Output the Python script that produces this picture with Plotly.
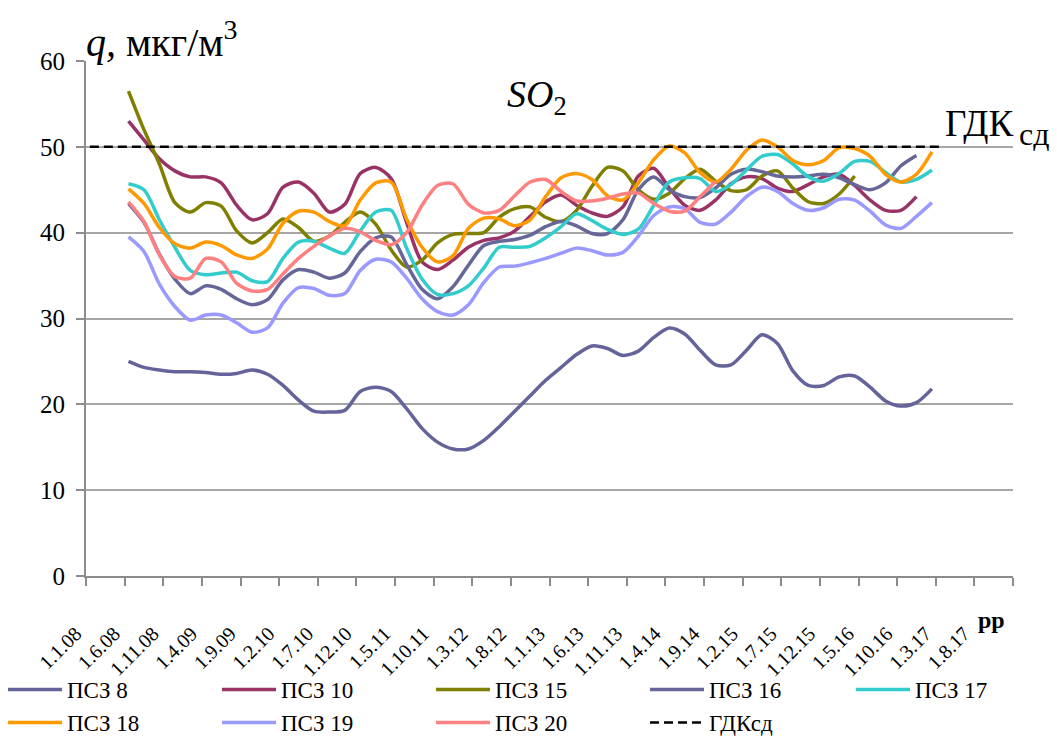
import plotly.graph_objects as go

# month index: 0 = January 2008
months = list(range(5, 110, 2))

tick_months = list(range(0, 120, 5))
tick_labels = ['1.1.08', '1.6.08', '1.11.08', '1.4.09', '1.9.09', '1.2.10', '1.7.10',
               '1.12.10', '1.5.11', '1.10.11', '1.3.12', '1.8.12', '1.1.13', '1.6.13',
               '1.11.13', '1.4.14', '1.9.14', '1.2.15', '1.7.15', '1.12.15', '1.5.16',
               '1.10.16', '1.3.17', '1.8.17']

psz8 = [25.0, 24.3, 24.0, 23.8, 23.8, 23.7, 23.5, 23.6, 24.0, 23.5,
        22.2, 20.5, 19.2, 19.1, 19.3, 21.5, 22.0, 21.5, 19.5, 17.2,
        15.6, 14.8, 14.8, 15.8, 17.4, 19.2, 21.0, 22.8, 24.3, 25.8,
        26.8, 26.5, 25.7, 26.2, 27.8, 28.9, 28.2, 26.3, 24.6, 24.6,
        26.3, 28.1, 27.1, 23.9, 22.2, 22.2, 23.2, 23.3, 22.0, 20.4,
        19.8, 20.2, 21.8]
psz10 = [53.0, 50.8, 48.6, 47.2, 46.5, 46.5, 45.8, 43.2, 41.5, 42.2,
         45.3, 45.9, 44.6, 42.4, 43.3, 46.9, 47.6, 46.3, 41.2, 36.6,
         35.7, 36.8, 38.3, 39.1, 39.4, 40.2, 41.9, 43.6, 44.4, 43.2,
         42.3, 41.9, 43.0, 46.6, 47.5, 45.2, 43.2, 42.6, 43.8, 45.7,
         46.5, 46.3, 45.2, 44.8, 45.6, 46.5, 46.8, 45.5, 43.8, 42.6,
         42.6, 44.2, None]
psz15 = [56.5, 52.0, 48.0, 43.5, 42.4, 43.5, 43.1, 40.2, 38.8, 40.0,
         41.6, 40.6, 39.0, 39.6, 41.2, 42.4, 41.0, 38.0, 36.0, 36.8,
         38.8, 39.8, 39.9, 40.0, 41.8, 42.8, 43.0, 41.8, 41.3, 42.6,
         45.4, 47.6, 47.2, 45.0, 43.9, 44.6, 46.3, 47.4, 46.0, 44.9,
         45.0, 46.6, 47.2, 45.2, 43.6, 43.4, 44.5, 46.6, None, None,
         None, None, None]
psz16 = [43.4, 41.2, 37.5, 34.6, 32.9, 33.8, 33.4, 32.3, 31.6, 32.2,
         34.5, 35.7, 35.4, 34.7, 35.3, 37.8, 39.4, 39.5, 36.3, 33.4,
         32.3, 33.7, 36.2, 38.5, 39.0, 39.2, 39.7, 40.7, 41.3, 40.8,
         39.9, 39.9, 41.5, 45.0, 46.5, 45.0, 44.2, 44.1, 45.2, 46.8,
         47.4, 47.1, 46.6, 46.5, 46.6, 46.8, 46.4, 45.6, 45.0, 45.8,
         47.8, 49.0, None]
psz17 = [45.7, 45.0, 41.5, 38.3, 35.6, 35.1, 35.3, 35.4, 34.4, 34.3,
         37.0, 38.9, 39.0, 38.2, 37.6, 40.2, 42.4, 42.6, 38.2, 34.6,
         32.8, 32.9, 33.8, 35.9, 38.3, 38.3, 38.4, 39.4, 40.7, 42.2,
         41.4, 40.4, 39.8, 40.4, 43.2, 45.9, 46.4, 46.3, 44.8, 45.6,
         47.3, 48.9, 49.1, 48.0, 46.5, 46.0, 46.9, 48.3, 48.3, 47.0,
         45.9, 46.2, 47.3]
psz18 = [45.1, 43.4, 40.6, 38.7, 38.2, 38.9, 38.5, 37.4, 37.0, 38.1,
         41.1, 42.5, 42.4, 41.3, 40.8, 43.8, 45.8, 45.9, 41.6, 38.3,
         36.6, 37.3, 40.5, 41.7, 41.6, 40.8, 41.5, 44.2, 46.4, 46.9,
         46.2, 44.3, 43.8, 45.8, 48.5, 50.1, 49.3, 47.0, 45.9, 47.4,
         49.6, 50.8, 50.0, 48.4, 47.9, 48.4, 49.9, 49.8, 48.9, 46.8,
         45.9, 46.8, 49.4]
psz19 = [39.5, 37.8, 34.0, 31.4, 29.8, 30.4, 30.4, 29.5, 28.4, 28.9,
         31.8, 33.6, 33.5, 32.7, 32.9, 35.6, 36.9, 36.6, 34.7, 32.3,
         30.8, 30.4, 31.6, 34.2, 36.0, 36.1, 36.5, 37.0, 37.6, 38.2,
         37.9, 37.4, 37.7, 39.6, 42.0, 43.0, 42.8, 41.2, 41.0, 42.4,
         44.2, 45.3, 44.8, 43.4, 42.6, 42.9, 43.9, 43.8, 42.5, 40.9,
         40.5, 41.9, 43.5]
psz20 = [43.6, 41.3, 37.4, 34.9, 34.7, 37.0, 36.6, 34.1, 33.2, 33.4,
         35.2, 37.0, 38.4, 39.6, 40.5, 40.1, 39.1, 38.6, 40.0, 43.2,
         45.5, 45.7, 43.3, 42.3, 42.6, 44.3, 45.9, 46.2, 44.8, 43.7,
         43.7, 44.0, 44.5, 44.6, 43.4, 42.5, 42.5, 44.2, 46.0, None,
         None, None, None, None, None, None, None, None, None, None,
         None, None, None]

gdk_months = [0, 110]
gdk_values = [50, 50]

series_names = ['ПСЗ 8', 'ПСЗ 10', 'ПСЗ 15', 'ПСЗ 16', 'ПСЗ 17', 'ПСЗ 18', 'ПСЗ 19', 'ПСЗ 20']
series_values = [psz8, psz10, psz15, psz16, psz17, psz18, psz19, psz20]
series_colors = ['#64649A', '#993366', '#808000', '#666699', '#33CCCC', '#FF9900', '#9999FF', '#FF8080']
series_legend = ['legend', 'legend', 'legend', 'legend', 'legend2', 'legend3', 'legend3', 'legend3']

SERIF = 'Liberation Serif'

fig = go.Figure()
for name, vals, col, lg in zip(series_names, series_values, series_colors, series_legend):
    fig.add_trace(go.Scatter(
        x=months, y=vals, mode='lines', name=name, legend=lg,
        line=dict(color=col, width=3.5, shape='spline', smoothing=0.8),
        connectgaps=False))

fig.add_trace(go.Scatter(
    x=gdk_months, y=gdk_values, mode='lines', name='ГДКсд', legend='legend3',
    line=dict(color='black', width=2.5, dash='9px,5px')))

W, H = 1057, 742
L, R, T, B = 86, 44, 61, 166
pw, ph = W - L - R, H - T - B


def px(xp):
    return (xp - L) / pw


def py(yp):
    return (H - B - yp) / ph


axis_grey = '#8C8C8C'
minor_ticks = [v - 0.5 for v in range(0, 121, 5)]
pad = '\u00a0' * 4

legend_common = dict(orientation='h', xanchor='left', yanchor='top',
                     entrywidth=145, entrywidthmode='pixels', itemwidth=54,
                     font=dict(family=SERIF, size=23, color='black'),
                     bgcolor='rgba(0,0,0,0)', tracegroupgap=0)

fig.update_layout(
    width=W, height=H,
    margin=dict(l=L, r=R, t=T, b=B, autoexpand=False),
    paper_bgcolor='white', plot_bgcolor='white',
    font=dict(family=SERIF, color='black'),
    showlegend=True,
    legend=dict(x=px(3), y=py(668), **legend_common),
    legend2=dict(x=px(851), y=py(668), **legend_common),
    legend3=dict(x=px(3), y=py(701), **legend_common),
    xaxis=dict(range=[-0.5, 119.5], tickmode='array', tickvals=tick_months,
               ticktext=[t + pad for t in tick_labels], tickangle=-45, ticks='', showgrid=False,
               showline=True, linecolor=axis_grey, linewidth=2, zeroline=False,
               tickfont=dict(family=SERIF, size=20, color='black'),
               ticklabelstandoff=22,
               minor=dict(tickmode='array', tickvals=minor_ticks, ticks='outside',
                          ticklen=8, tickwidth=2, tickcolor=axis_grey, showgrid=False)),
    yaxis=dict(range=[0, 60], dtick=10, tick0=0, showgrid=True, gridcolor='#A6A6A6',
               gridwidth=2, showline=True, linecolor=axis_grey, linewidth=2,
               ticks='outside', ticklen=8, tickwidth=2, tickcolor=axis_grey,
               ticklabelstandoff=6,
               zeroline=False, tickfont=dict(family=SERIF, size=25, color='black')),
    annotations=[
        dict(xref='paper', yref='paper', x=px(84), y=py(40), xanchor='left', yanchor='middle',
             text='<i>q,</i> мкг/м<sup>3</sup>', showarrow=False,
             font=dict(family=SERIF, size=40, color='black')),
        dict(xref='paper', yref='paper', x=px(537), y=py(97), xanchor='center', yanchor='middle',
             text='<i>SO</i><sub>2</sub>', showarrow=False,
             font=dict(family=SERIF, size=38, color='black')),
        dict(xref='paper', yref='paper', x=px(943), y=py(123), xanchor='left', yanchor='middle',
             text='ГДК', showarrow=False,
             font=dict(family=SERIF, size=37, color='black')),
        dict(xref='paper', yref='paper', x=px(1017), y=py(134), xanchor='left', yanchor='middle',
             text='сд', showarrow=False,
             font=dict(family=SERIF, size=32, color='black')),
        dict(xref='paper', yref='paper', x=px(991), y=py(620), xanchor='center', yanchor='middle',
             text='<b>рр</b>', showarrow=False,
             font=dict(family=SERIF, size=24, color='black')),
    ],
)

fig.write_html('out.html', config={'displayModeBar': False},
               post_script="document.body.style.margin='0px';")
